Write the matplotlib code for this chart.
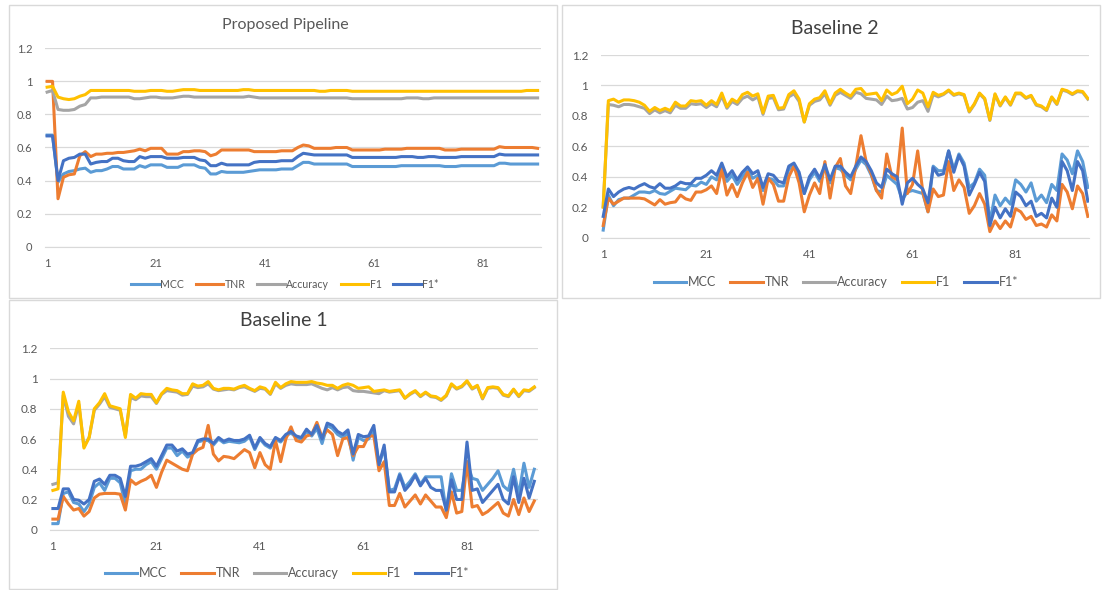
import matplotlib
matplotlib.use("Agg")
import matplotlib.pyplot as plt
from matplotlib.patches import Rectangle

plt.rcParams['font.family'] = ['Lato', 'DejaVu Sans']

W, H = 1102, 590

series_names = ['MCC', 'TNR', 'Accuracy', 'F1', 'F1*']
series_colors = ['#5B9BD5', '#ED7D31', '#A5A5A5', '#FFC000', '#4472C4']
x_tick_labels = [1, 21, 41, 61, 81]
y_tick_values = [0, 0.2, 0.4, 0.6, 0.8, 1.0, 1.2]
y_tick_labels = ['0', '0.2', '0.4', '0.6', '0.8', '1', '1.2']

# ---- Proposed Pipeline (91 runs) ----
pp_mcc = [0.675, 0.675, 0.39, 0.44, 0.455, 0.46, 0.47, 0.475, 0.45, 0.46,
          0.46, 0.47, 0.485, 0.485, 0.47, 0.47, 0.47, 0.49, 0.48, 0.495,
          0.495, 0.495, 0.48, 0.48, 0.48, 0.495, 0.495, 0.495, 0.48, 0.475,
          0.44, 0.44, 0.455, 0.45, 0.45, 0.45, 0.45, 0.455, 0.46, 0.465,
          0.465, 0.465, 0.465, 0.47, 0.47, 0.47, 0.49, 0.51, 0.51, 0.50,
          0.50, 0.50, 0.50, 0.50, 0.50, 0.50, 0.485, 0.485, 0.485, 0.485,
          0.485, 0.485, 0.485, 0.485, 0.485, 0.49, 0.49, 0.49, 0.49, 0.49,
          0.49, 0.49, 0.49, 0.485, 0.485, 0.485, 0.49, 0.49, 0.49, 0.49,
          0.49, 0.49, 0.49, 0.505, 0.505, 0.50, 0.50, 0.50, 0.50, 0.50,
          0.50]
pp_tnr = [1.0, 1.0, 0.29, 0.42, 0.435, 0.44, 0.55, 0.575, 0.545, 0.56,
          0.56, 0.565, 0.565, 0.57, 0.57, 0.575, 0.58, 0.59, 0.58, 0.595,
          0.595, 0.595, 0.56, 0.56, 0.56, 0.575, 0.575, 0.58, 0.58, 0.575,
          0.55, 0.56, 0.585, 0.585, 0.585, 0.585, 0.585, 0.585, 0.575, 0.575,
          0.575, 0.575, 0.575, 0.58, 0.58, 0.58, 0.60, 0.615, 0.61, 0.595,
          0.595, 0.595, 0.595, 0.60, 0.60, 0.60, 0.585, 0.585, 0.585, 0.585,
          0.585, 0.585, 0.59, 0.59, 0.59, 0.59, 0.595, 0.595, 0.595, 0.595,
          0.595, 0.595, 0.595, 0.585, 0.585, 0.585, 0.59, 0.59, 0.59, 0.59,
          0.59, 0.59, 0.59, 0.605, 0.60, 0.60, 0.60, 0.60, 0.60, 0.60,
          0.595]
pp_acc = [0.935, 0.945, 0.83, 0.825, 0.825, 0.83, 0.85, 0.86, 0.90, 0.90,
          0.905, 0.905, 0.905, 0.905, 0.905, 0.905, 0.895, 0.895, 0.90, 0.905,
          0.905, 0.90, 0.90, 0.90, 0.905, 0.91, 0.91, 0.905, 0.905, 0.905,
          0.905, 0.905, 0.905, 0.905, 0.905, 0.905, 0.905, 0.91, 0.905, 0.90,
          0.90, 0.90, 0.90, 0.90, 0.90, 0.90, 0.90, 0.90, 0.90, 0.90,
          0.90, 0.90, 0.90, 0.90, 0.90, 0.90, 0.895, 0.895, 0.895, 0.895,
          0.895, 0.895, 0.895, 0.895, 0.895, 0.895, 0.90, 0.90, 0.90, 0.895,
          0.895, 0.90, 0.90, 0.90, 0.90, 0.90, 0.90, 0.90, 0.90, 0.90,
          0.90, 0.90, 0.90, 0.90, 0.90, 0.90, 0.90, 0.90, 0.90, 0.90,
          0.90]
pp_f1 = [0.965, 0.97, 0.905, 0.895, 0.89, 0.895, 0.91, 0.92, 0.945, 0.945,
         0.945, 0.945, 0.945, 0.945, 0.945, 0.945, 0.94, 0.94, 0.94, 0.945,
         0.945, 0.945, 0.94, 0.94, 0.945, 0.95, 0.95, 0.95, 0.945, 0.945,
         0.945, 0.945, 0.945, 0.945, 0.945, 0.945, 0.95, 0.95, 0.945, 0.945,
         0.945, 0.945, 0.945, 0.945, 0.945, 0.945, 0.945, 0.945, 0.945, 0.945,
         0.94, 0.94, 0.945, 0.945, 0.945, 0.945, 0.94, 0.94, 0.94, 0.94,
         0.94, 0.94, 0.94, 0.94, 0.94, 0.94, 0.94, 0.94, 0.94, 0.94,
         0.94, 0.94, 0.94, 0.94, 0.94, 0.94, 0.94, 0.94, 0.94, 0.94,
         0.94, 0.94, 0.94, 0.94, 0.94, 0.94, 0.94, 0.94, 0.945, 0.945,
         0.945]
pp_f1s = [0.67, 0.67, 0.40, 0.52, 0.535, 0.54, 0.56, 0.56, 0.50, 0.51,
          0.515, 0.515, 0.535, 0.535, 0.52, 0.515, 0.515, 0.545, 0.535, 0.545,
          0.545, 0.545, 0.535, 0.535, 0.535, 0.54, 0.54, 0.54, 0.525, 0.52,
          0.49, 0.49, 0.505, 0.495, 0.495, 0.495, 0.495, 0.495, 0.51, 0.515,
          0.515, 0.515, 0.515, 0.52, 0.52, 0.52, 0.545, 0.565, 0.56, 0.555,
          0.555, 0.555, 0.555, 0.555, 0.555, 0.555, 0.54, 0.54, 0.54, 0.54,
          0.54, 0.54, 0.54, 0.54, 0.54, 0.545, 0.545, 0.545, 0.54, 0.54,
          0.545, 0.545, 0.54, 0.54, 0.54, 0.54, 0.545, 0.545, 0.545, 0.545,
          0.545, 0.545, 0.545, 0.56, 0.555, 0.555, 0.555, 0.555, 0.555, 0.555,
          0.555]

# ---- Baseline 2 (95 runs) ----
b2_mcc = [0.05, 0.28, 0.21, 0.25, 0.26, 0.26, 0.28, 0.30, 0.30, 0.295,
          0.31, 0.29, 0.285, 0.305, 0.325, 0.32, 0.315, 0.345, 0.34, 0.365,
          0.35, 0.40, 0.38, 0.46, 0.37, 0.41, 0.35, 0.40, 0.44, 0.39,
          0.41, 0.31, 0.39, 0.38, 0.34, 0.34, 0.45, 0.47, 0.41, 0.29,
          0.38, 0.43, 0.37, 0.46, 0.36, 0.46, 0.45, 0.41, 0.38, 0.45,
          0.51, 0.48, 0.41, 0.31, 0.30, 0.41, 0.38, 0.35, 0.25, 0.30,
          0.31, 0.30, 0.29, 0.17, 0.47, 0.44, 0.44, 0.57, 0.45, 0.55,
          0.49, 0.33, 0.36, 0.45, 0.41, 0.10, 0.28, 0.21, 0.26, 0.22,
          0.38, 0.35, 0.30, 0.36, 0.24, 0.28, 0.23, 0.35, 0.31, 0.55,
          0.51, 0.42, 0.57, 0.50, 0.33]
b2_tnr = [0.08, 0.26, 0.22, 0.24, 0.26, 0.26, 0.26, 0.26, 0.255, 0.235,
          0.215, 0.25, 0.22, 0.23, 0.235, 0.28, 0.255, 0.245, 0.30, 0.30,
          0.315, 0.34, 0.29, 0.45, 0.28, 0.35, 0.27, 0.36, 0.43, 0.33,
          0.39, 0.22, 0.39, 0.35, 0.24, 0.24, 0.40, 0.47, 0.36, 0.17,
          0.28, 0.36, 0.29, 0.50, 0.26, 0.46, 0.52, 0.34, 0.29, 0.47,
          0.67, 0.50, 0.42, 0.31, 0.26, 0.55, 0.40, 0.38, 0.72, 0.29,
          0.35, 0.57, 0.30, 0.17, 0.32, 0.27, 0.28, 0.50, 0.31, 0.38,
          0.33, 0.16, 0.21, 0.29, 0.22, 0.04, 0.11, 0.06, 0.11, 0.07,
          0.19, 0.17, 0.12, 0.14, 0.08, 0.09, 0.07, 0.15, 0.11, 0.35,
          0.30, 0.19, 0.34, 0.29, 0.14]
b2_acc = [0.21, 0.875, 0.87, 0.86, 0.875, 0.875, 0.87, 0.86, 0.85, 0.815,
          0.84, 0.82, 0.835, 0.82, 0.87, 0.85, 0.85, 0.88, 0.875, 0.88,
          0.855, 0.88, 0.86, 0.93, 0.85, 0.895, 0.875, 0.915, 0.93, 0.905,
          0.925, 0.81, 0.915, 0.92, 0.84, 0.845, 0.925, 0.945, 0.895, 0.76,
          0.87, 0.895, 0.905, 0.945, 0.87, 0.935, 0.955, 0.935, 0.915, 0.955,
          0.945, 0.915, 0.91, 0.905, 0.875, 0.93, 0.90, 0.905, 0.915, 0.845,
          0.855, 0.89, 0.90, 0.83, 0.94, 0.925, 0.94, 0.965, 0.935, 0.945,
          0.935, 0.825, 0.875, 0.945, 0.91, 0.77, 0.94, 0.865, 0.92, 0.87,
          0.945, 0.945, 0.915, 0.93, 0.87, 0.86, 0.835, 0.92, 0.875, 0.97,
          0.96, 0.94, 0.96, 0.955, 0.91]
b2_f1 = [0.20, 0.90, 0.91, 0.89, 0.905, 0.905, 0.90, 0.89, 0.87, 0.83,
         0.855, 0.835, 0.85, 0.835, 0.89, 0.865, 0.865, 0.90, 0.895, 0.90,
         0.87, 0.90, 0.875, 0.95, 0.86, 0.91, 0.89, 0.94, 0.955, 0.93,
         0.945, 0.82, 0.93, 0.935, 0.85, 0.855, 0.94, 0.965, 0.91, 0.76,
         0.88, 0.91, 0.92, 0.965, 0.88, 0.95, 0.975, 0.95, 0.93, 0.975,
         0.98, 0.94, 0.945, 0.95, 0.90, 0.97, 0.94, 0.955, 0.995, 0.88,
         0.91, 0.97, 0.95, 0.86, 0.955, 0.935, 0.945, 0.97, 0.94, 0.95,
         0.94, 0.83, 0.88, 0.95, 0.915, 0.775, 0.945, 0.87, 0.925, 0.875,
         0.95, 0.95, 0.92, 0.935, 0.875, 0.865, 0.84, 0.925, 0.88, 0.975,
         0.965, 0.945, 0.965, 0.96, 0.915]
b2_f1s = [0.14, 0.32, 0.27, 0.30, 0.32, 0.33, 0.32, 0.34, 0.355, 0.335,
          0.325, 0.355, 0.325, 0.325, 0.34, 0.365, 0.355, 0.355, 0.39, 0.39,
          0.41, 0.44, 0.41, 0.49, 0.40, 0.44, 0.38, 0.43, 0.465, 0.42,
          0.44, 0.33, 0.42, 0.41, 0.37, 0.36, 0.47, 0.49, 0.43, 0.29,
          0.40, 0.45, 0.39, 0.48, 0.38, 0.47, 0.47, 0.43, 0.40, 0.47,
          0.53, 0.50, 0.44, 0.36, 0.33, 0.45, 0.42, 0.40, 0.22, 0.36,
          0.39, 0.35, 0.32, 0.23, 0.46, 0.41, 0.42, 0.57, 0.43, 0.54,
          0.47, 0.28, 0.35, 0.43, 0.37, 0.08, 0.20, 0.13, 0.19, 0.14,
          0.30, 0.27, 0.21, 0.24, 0.14, 0.16, 0.13, 0.26, 0.20, 0.50,
          0.44, 0.31, 0.50, 0.44, 0.24]

# ---- Baseline 1 (94 runs) ----
b1_mcc = [0.04, 0.04, 0.24, 0.25, 0.18, 0.17, 0.12, 0.17, 0.28, 0.31,
          0.26, 0.34, 0.34, 0.31, 0.17, 0.39, 0.40, 0.40, 0.43, 0.45,
          0.40, 0.47, 0.54, 0.54, 0.49, 0.52, 0.48, 0.50, 0.58, 0.59,
          0.59, 0.56, 0.60, 0.575, 0.585, 0.58, 0.575, 0.585, 0.615, 0.53,
          0.60, 0.56, 0.54, 0.60, 0.58, 0.62, 0.64, 0.61, 0.60, 0.65,
          0.62, 0.67, 0.57, 0.69, 0.67, 0.63, 0.61, 0.64, 0.46, 0.61,
          0.59, 0.60, 0.66, 0.43, 0.54, 0.26, 0.27, 0.37, 0.28, 0.32,
          0.37, 0.30, 0.35, 0.35, 0.35, 0.35, 0.12, 0.37, 0.26, 0.26,
          0.45, 0.34, 0.33, 0.26, 0.30, 0.34, 0.39, 0.29, 0.26, 0.40,
          0.23, 0.44, 0.28, 0.40]
b1_tnr = [0.07, 0.07, 0.22, 0.17, 0.13, 0.14, 0.09, 0.12, 0.21, 0.235,
          0.24, 0.24, 0.24, 0.235, 0.13, 0.33, 0.30, 0.32, 0.335, 0.36,
          0.28, 0.38, 0.46, 0.44, 0.42, 0.40, 0.39, 0.50, 0.53, 0.545,
          0.69, 0.50, 0.455, 0.485, 0.48, 0.47, 0.50, 0.53, 0.51, 0.41,
          0.51, 0.43, 0.40, 0.59, 0.45, 0.60, 0.68, 0.59, 0.58, 0.62,
          0.63, 0.71, 0.61, 0.66, 0.63, 0.49, 0.60, 0.61, 0.49, 0.55,
          0.55, 0.62, 0.62, 0.39, 0.45, 0.16, 0.16, 0.24, 0.15, 0.19,
          0.23, 0.17, 0.23, 0.19, 0.15, 0.15, 0.08, 0.25, 0.11, 0.12,
          0.45, 0.15, 0.16, 0.10, 0.12, 0.15, 0.18, 0.11, 0.09, 0.20,
          0.10, 0.21, 0.12, 0.19]
b1_acc = [0.30, 0.31, 0.89, 0.75, 0.70, 0.83, 0.55, 0.61, 0.79, 0.83,
          0.88, 0.81, 0.80, 0.79, 0.62, 0.875, 0.86, 0.885, 0.88, 0.88,
          0.835, 0.895, 0.92, 0.915, 0.91, 0.89, 0.895, 0.95, 0.94, 0.945,
          0.965, 0.93, 0.92, 0.925, 0.93, 0.925, 0.94, 0.945, 0.93, 0.915,
          0.935, 0.93, 0.895, 0.965, 0.935, 0.955, 0.965, 0.96, 0.96, 0.96,
          0.965, 0.95, 0.935, 0.925, 0.94, 0.925, 0.94, 0.945, 0.92, 0.915,
          0.915, 0.91, 0.905, 0.90, 0.92, 0.91, 0.915, 0.92, 0.87, 0.895,
          0.915, 0.88, 0.905, 0.88, 0.875, 0.855, 0.885, 0.96, 0.93, 0.945,
          0.98, 0.93, 0.95, 0.865, 0.935, 0.94, 0.935, 0.89, 0.88, 0.925,
          0.88, 0.92, 0.915, 0.94]
b1_f1 = [0.26, 0.27, 0.91, 0.78, 0.72, 0.85, 0.54, 0.61, 0.80, 0.84,
         0.90, 0.82, 0.81, 0.80, 0.61, 0.895, 0.87, 0.90, 0.895, 0.895,
         0.84, 0.90, 0.935, 0.925, 0.92, 0.90, 0.90, 0.965, 0.95, 0.955,
         0.98, 0.935, 0.925, 0.935, 0.935, 0.93, 0.945, 0.955, 0.935, 0.92,
         0.945, 0.935, 0.90, 0.975, 0.94, 0.965, 0.98, 0.975, 0.975, 0.975,
         0.98, 0.97, 0.965, 0.955, 0.955, 0.935, 0.955, 0.965, 0.955, 0.935,
         0.94, 0.945, 0.915, 0.92, 0.925, 0.915, 0.92, 0.925, 0.87, 0.90,
         0.92, 0.885, 0.91, 0.885, 0.88, 0.86, 0.89, 0.965, 0.935, 0.95,
         0.985, 0.935, 0.955, 0.87, 0.94, 0.945, 0.94, 0.895, 0.885, 0.93,
         0.885, 0.925, 0.92, 0.945]
b1_f1s = [0.14, 0.14, 0.27, 0.27, 0.20, 0.195, 0.17, 0.20, 0.32, 0.335,
          0.30, 0.36, 0.36, 0.34, 0.22, 0.42, 0.42, 0.43, 0.45, 0.47,
          0.42, 0.49, 0.56, 0.56, 0.52, 0.535, 0.50, 0.51, 0.59, 0.60,
          0.60, 0.57, 0.61, 0.585, 0.60, 0.59, 0.59, 0.60, 0.625, 0.54,
          0.61, 0.57, 0.55, 0.61, 0.59, 0.63, 0.65, 0.62, 0.61, 0.665,
          0.63, 0.69, 0.60, 0.705, 0.69, 0.65, 0.63, 0.66, 0.50, 0.63,
          0.615, 0.62, 0.69, 0.43, 0.56, 0.25, 0.25, 0.36, 0.26, 0.30,
          0.36, 0.29, 0.34, 0.28, 0.26, 0.26, 0.13, 0.33, 0.20, 0.20,
          0.58, 0.26, 0.27, 0.18, 0.22, 0.26, 0.30, 0.20, 0.17, 0.35,
          0.18, 0.34, 0.21, 0.32]


fig = plt.figure(figsize=(W / 100, H / 100), dpi=100)

# panel frames (pixel boxes)
for x0, y0, x1, y1 in [(9, 5, 557, 298), (562, 5, 1100, 298), (9, 300, 557, 589)]:
    fig.add_artist(Rectangle((x0 / W, 1 - y1 / H), (x1 - x0) / W, (y1 - y0) / H,
                             transform=fig.transFigure, fill=False,
                             ec='#D9D9D9', lw=1))


def make_panel(box, xlim, series, title, title_pos, title_size, title_color,
               tick_size, legend_pos, legend_size):
    x0, x1, ytop, ybot = box
    ax = fig.add_axes([x0 / W, 1 - ybot / H, (x1 - x0) / W, (ybot - ytop) / H])
    runs = list(range(1, len(series[0]) + 1))
    handles = []
    for vals, name, col in zip(series, series_names, series_colors):
        h, = ax.plot(runs, vals, color=col, lw=2.2, label=name,
                     solid_joinstyle='round')
        handles.append(h)
    ax.set_xlim(*xlim)
    ax.set_ylim(0, 1.2)
    ax.set_yticks(y_tick_values)
    ax.set_yticklabels(y_tick_labels)
    ax.set_xticks(x_tick_labels)
    ax.set_xticklabels([str(v) for v in x_tick_labels])
    ax.grid(axis='y', color='#D9D9D9', lw=0.9)
    ax.set_axisbelow(True)
    for s in ['top', 'right', 'left']:
        ax.spines[s].set_visible(False)
    ax.spines['bottom'].set_color('#D9D9D9')
    ax.tick_params(length=0, labelsize=tick_size, labelcolor='#595959')
    ax.tick_params(axis='y', pad=9)
    ax.tick_params(axis='x', pad=8)
    fig.text(title_pos[0] / W, 1 - title_pos[1] / H, title, ha='center',
             va='center', fontsize=title_size, color=title_color)
    fig.legend(handles, series_names, loc='center',
               bbox_to_anchor=(legend_pos[0] / W, 1 - legend_pos[1] / H),
               ncol=5, frameon=False, fontsize=legend_size,
               labelcolor='#595959', handlelength=2.6, handletextpad=0.15,
               columnspacing=1.1, borderaxespad=0, borderpad=0)
    return ax


make_panel((44.6, 541, 48.3, 246.7), (0.54, 91.62),
           [pp_mcc, pp_tnr, pp_acc, pp_f1, pp_f1s],
           'Proposed Pipeline', (285, 25), 11.5, '#595959', 8, (285, 284), 7.6)
make_panel((600.8, 1089, 55, 237.7), (0.534, 95.23),
           [b2_mcc, b2_tnr, b2_acc, b2_f1, b2_f1s],
           'Baseline 2', (835, 28), 14, '#404040', 8.5, (836, 282), 9)
make_panel((50, 537.5, 348.3, 529.7), (0.44, 94.62),
           [b1_mcc, b1_tnr, b1_acc, b1_f1, b1_f1s],
           'Baseline 1', (284, 321), 14, '#404040', 8.5, (287, 573), 9)

fig.savefig('out.png', dpi=100)
